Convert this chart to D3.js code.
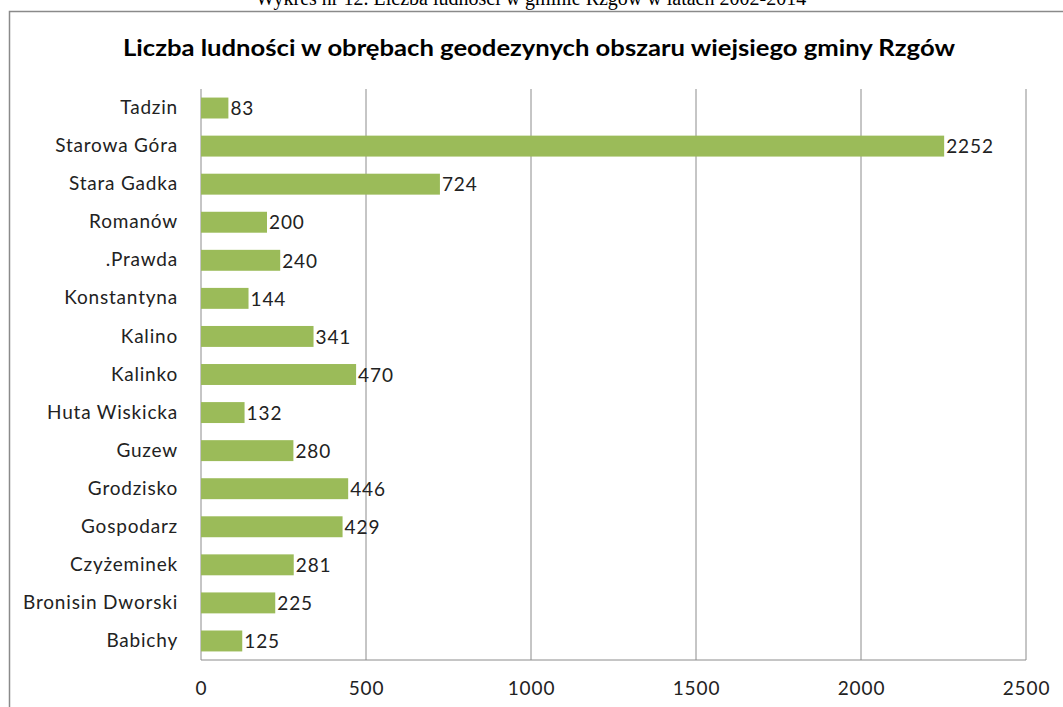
<!DOCTYPE html>
<html><head><meta charset="utf-8">
<script src="https://cdn.jsdelivr.net/npm/d3@7"></script>
<style>body{margin:0;background:#fff;}svg{display:block;}</style>
</head><body>
<svg id="c" width="1063" height="707"></svg>
<script>
const categories = ["Tadzin","Starowa Góra","Stara Gadka","Romanów",".Prawda","Konstantyna","Kalino","Kalinko","Huta Wiskicka","Guzew","Grodzisko","Gospodarz","Czyżeminek","Bronisin Dworski","Babichy"];
const values = [83,2252,724,200,240,144,341,470,132,280,446,429,281,225,125];
const xTicks = [0,500,1000,1500,2000,2500];
const chartTitle = "Liczba ludności w obrębach geodezynych obszaru wiejsiego gminy Rzgów";
const pageCaption = "Wykres nr 12. Liczba ludności w gminie Rzgów w latach 2002-2014";

const svg = d3.select("#c");
const font = "Lato, 'Open Sans', sans-serif";
const pLeft = 201, pRight = 1026, pTop = 89, pBottom = 660;

svg.append("text").attr("x", 531).attr("y", 5).attr("text-anchor","middle")
  .attr("font-family","'Liberation Serif', serif").attr("font-size",20).attr("fill","#000").text(pageCaption);

svg.append("rect").attr("x",9.5).attr("y",11.5).attr("width",1080).attr("height",720)
  .attr("fill","none").attr("stroke","#8a8a8a").attr("stroke-width",1.5);

svg.append("text").attr("x", 123).attr("y", 56)
  .attr("textLength", 832).attr("lengthAdjust","spacingAndGlyphs")
  .attr("font-family",font).attr("font-weight","bold").attr("font-size",23.5).attr("fill","#000").text(chartTitle);

const x = d3.scaleLinear().domain([0,2500]).range([pLeft,pRight]);
const y = d3.scaleBand().domain(categories).range([pTop,pBottom]).paddingInner(0.45).paddingOuter(0.225);

const g = svg.append("g");
g.selectAll("line.grid").data(xTicks).join("line").attr("class","grid")
  .attr("x1",d=>x(d)).attr("x2",d=>x(d)).attr("y1",pTop).attr("y2",pBottom)
  .attr("stroke","#8c8c8c").attr("stroke-width",1);
g.append("line").attr("x1",pLeft).attr("x2",pRight).attr("y1",pBottom).attr("y2",pBottom).attr("stroke","#8c8c8c");

const xAxis = d3.axisBottom(x).tickValues(xTicks).tickFormat(d3.format("d")).tickSize(0).tickPadding(22);
const ax = svg.append("g").attr("transform",`translate(0,${pBottom})`).call(xAxis);
ax.select(".domain").remove();
ax.selectAll("text").attr("font-family",font).attr("font-size",19).attr("letter-spacing","0.9px").attr("fill","#222");

const yAxis = d3.axisLeft(y).tickSize(0).tickPadding(23);
const ay = svg.append("g").attr("transform",`translate(${pLeft},0)`).call(yAxis);
ay.select(".domain").remove();
ay.selectAll("text").attr("font-family",font).attr("font-size",19).attr("letter-spacing","0.8px").attr("fill","#222");

g.selectAll("rect.bar").data(categories).join("rect").attr("class","bar")
  .attr("x",x(0)).attr("y",d=>y(d)).attr("height",y.bandwidth())
  .attr("width",(d,i)=>x(values[i])-x(0)).attr("fill","#9bbb59");

g.selectAll("text.val").data(categories).join("text").attr("class","val")
  .attr("x",(d,i)=>x(values[i])+2).attr("y",d=>y(d)+y.bandwidth()/2).attr("dy","0.38em")
  .attr("font-family",font).attr("font-size",19).attr("letter-spacing","0.9px").attr("fill","#222").text((d,i)=>values[i]);
</script>
</body></html>
